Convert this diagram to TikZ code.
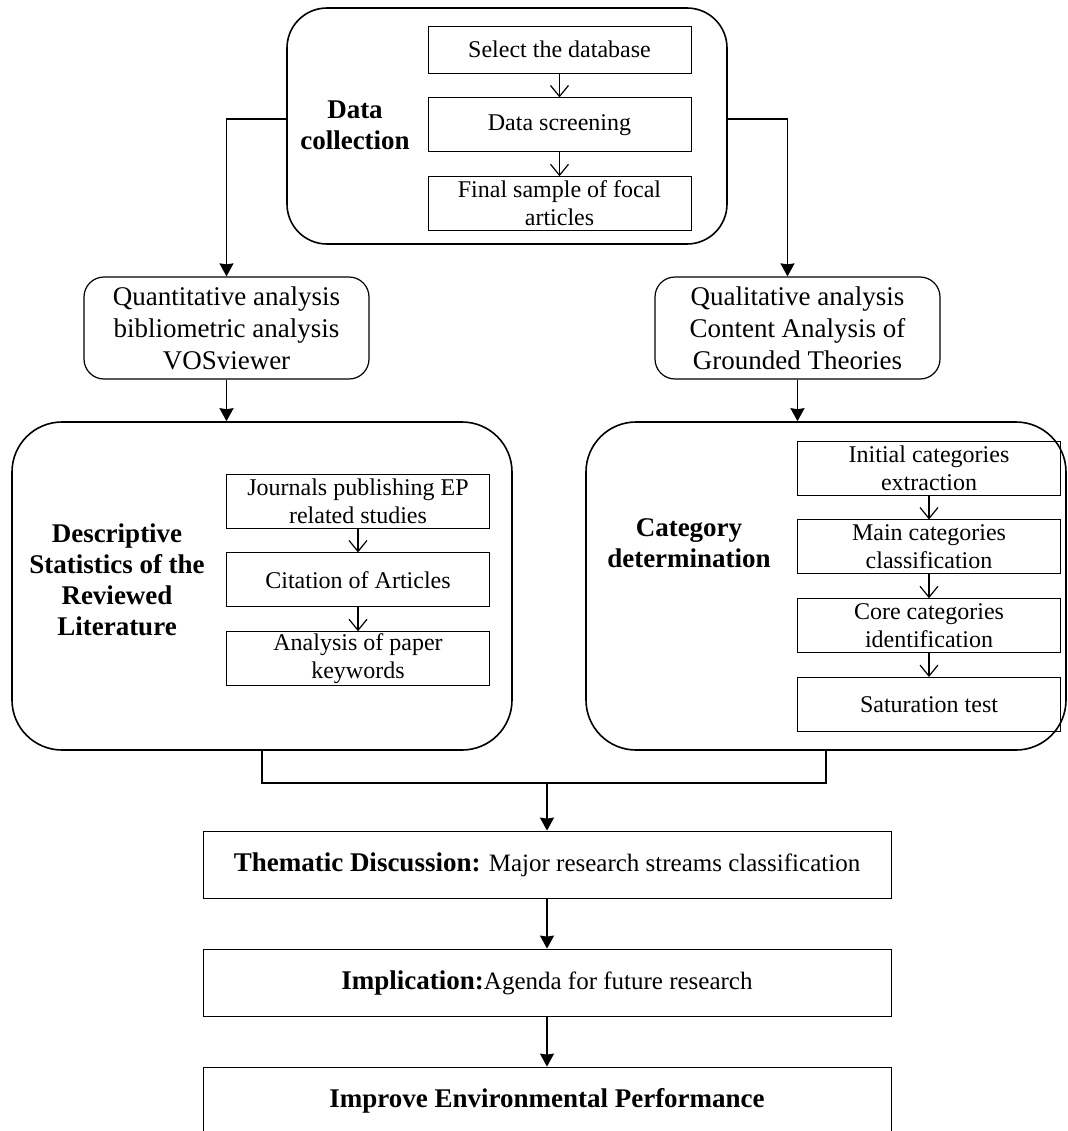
\documentclass[tikz,border=0pt]{standalone}
\usepackage{fontspec}
\setmainfont{Liberation Serif}
\usetikzlibrary{arrows.meta}
\usetikzlibrary{positioning}

\begin{document}
\begin{tikzpicture}[x=0.5pt,y=-0.5pt,->,>={Stealth[length=6.5pt,width=7pt,inset=0.5pt]},
    thick,node distance=12pt,
    outer box/.style={draw,thick,rounded corners=20pt},
    mid box/.style={draw,semithick,rounded corners=10pt,align=center,inner sep=1pt,
                    minimum width=142.5pt,minimum height=51pt,font=\fontsize{13.5}{16}\selectfont},
    inner box/.style={draw,thin,align=center,inner sep=0.5pt,
                      minimum width=131.5pt,minimum height=27pt,font=\fontsize{12}{14}\selectfont},
    wide box/.style={draw,thin,minimum width=344pt,minimum height=33.5pt,font=\fontsize{12.5}{14}\selectfont},
    label/.style={align=center,font=\bfseries\fontsize{13.5}{15.5}\selectfont},
    small arrow/.style={-{Straight Barb[length=5.5pt,width=9pt]},semithick}]
  \useasboundingbox (0,0) rectangle (1067,1131);

  % data collection
  \node[outer box,minimum width=220pt,minimum height=118pt] (dc) at (507,126) {};
  \node[label] (dclab) at (355,125) {Data\\collection};
  \node[inner box,minimum height=23.5pt] (sel) at (559.5,49.5) {Select the database};
  \node[inner box,below=of sel] (scr) {Data screening};
  \node[inner box,below=of scr] (fin) {Final sample of focal\\articles};

  % the two analyses
  \node[mid box] (quant) at (226.5,328) {Quantitative analysis\\bibliometric analysis\\VOSviewer};
  \node[mid box] (qual) at (797.5,328) {Qualitative analysis\\Content Analysis of\\Grounded Theories};

  % descriptive statistics
  \node[outer box,rounded corners=25pt,minimum width=250pt,minimum height=164pt] (desc) at (262,586) {};
  \node[label] (desclab) at (117,580) {Descriptive\\Statistics of the\\Reviewed\\Literature};
  \node[inner box] (jour) at (358,501) {Journals publishing EP\\related studies};
  \node[inner box,below=of jour] (cit) {Citation of Articles};
  \node[inner box,below=of cit] (key) {Analysis of paper\\keywords};

  % category determination
  \node[outer box,rounded corners=25pt,minimum width=240pt,minimum height=164pt] (cat) at (826,586) {};
  \node[label] (catlab) at (689,543) {Category\\determination};
  \node[inner box] (init) at (929,468) {Initial categories\\extraction};
  \node[inner box,below=of init] (main) {Main categories\\classification};
  \node[inner box,below=of main] (core) {Core categories\\identification};
  \node[inner box,below=of core] (sat) {Saturation test};

  % results
  \node[wide box] (them) at (547,864.5) {{\bfseries\fontsize{13.5}{14}\selectfont Thematic Discussion:} Major research streams classification};
  \node[wide box] (impl) at (547,982.5) {{\bfseries\fontsize{13.5}{14}\selectfont Implication:}Agenda for future research};
  \node[wide box,font=\bfseries\fontsize{13.5}{14}\selectfont] (impr) at (547,1100.5) {Improve Environmental Performance};

  \draw[small arrow] (sel) -- (scr);
  \draw[small arrow] (scr) -- (fin);
  \draw[small arrow] (jour) -- (cit);
  \draw[small arrow] (cit) -- (key);
  \draw[small arrow] (init) -- (main);
  \draw[small arrow] (main) -- (core);
  \draw[small arrow] (core) -- (sat);

  \draw ([yshift=3.5pt]dc.west) -| (quant.north);
  \draw ([yshift=3.5pt]dc.east) -| ([xshift=-5pt]qual.north);
  \draw (quant.south) -- (quant.south |- desc.north);
  \draw (qual.south) -- (qual.south |- cat.north);
  \coordinate (join) at (547,783);
  \draw[-] (desc.south) |- (join) -| (cat.south);
  \draw (join) -- (them);
  \draw (them) -- (impl);
  \draw (impl) -- (impr);
\end{tikzpicture}
\end{document}
